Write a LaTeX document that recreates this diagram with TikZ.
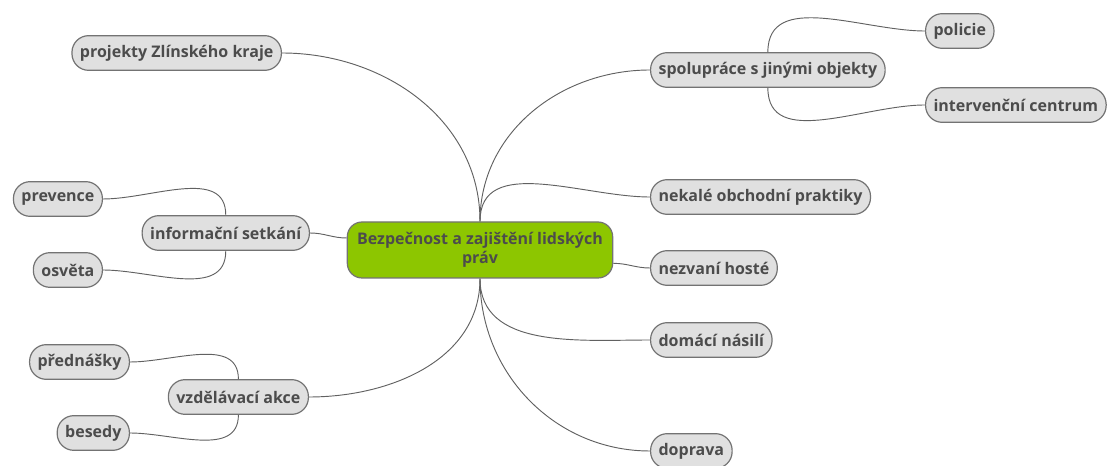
\documentclass[tikz,border=0pt]{standalone}
\usepackage{fontspec}
\setmainfont{Open Sans}

\definecolor{mapgreen}{RGB}{141,198,0}

\tikzset{
    topic/.style={draw=black!55, fill=black!12, line width=0.9pt, rounded corners=12.5pt,
        minimum height=26pt, inner xsep=6pt, font=\bfseries\fontsize{12}{14}\selectfont, text=black!70},
    central/.style={topic, fill=mapgreen, rounded corners=11pt, minimum width=199pt, minimum height=42pt, align=center},
    link/.style={draw=black!62, line width=0.7pt}
}

\begin{document}
\begin{tikzpicture}[x=0.75pt, y=-0.75pt]

    \useasboundingbox (0,0) rectangle (1108,466);

    % hlavni tema
    \node[central] (root) at (480,250) {Bezpečnost a zajištění lidských\\práv};

    % vpravo
    \node[topic, anchor=west] (coop) at (650,70) {spolupráce s jinými objekty};
    \node[topic, anchor=west] (police) at (925,31) {policie};
    \node[topic, anchor=west] (crisis) at (925,105) {intervenční centrum};
    \node[topic, anchor=west] (trade) at (650,197) {nekalé obchodní praktiky};
    \node[topic, anchor=west] (guests) at (650,268) {nezvaní hosté};
    \node[topic, anchor=west] (abuse) at (650,340) {domácí násilí};
    \node[topic, anchor=west] (traffic) at (650,451) {doprava};

    % vlevo
    \node[topic, anchor=east] (region) at (282,53) {projekty Zlínského kraje};
    \node[topic, anchor=east] (info) at (310,233) {informační setkání};
    \node[topic, anchor=east] (prevent) at (103,199) {prevence};
    \node[topic, anchor=east] (aware) at (103,270) {osvěta};
    \node[topic, anchor=east] (edu) at (309,397) {vzdělávací akce};
    \node[topic, anchor=east] (lecture) at (130,362) {přednášky};
    \node[topic, anchor=east] (debate) at (130,433) {besedy};

    % spojnice
    \foreach \child in {coop, trade} {
        \draw[link] (root.north) to[out=90, in=180] (\child.west);
    }
    \foreach \child in {abuse, traffic} {
        \draw[link] (root.south) to[out=-90, in=180] (\child.west);
    }
    \draw[link] ([yshift=-10pt]root.east) to[out=0, in=180] (guests.west);
    \draw[link] (root.north) to[out=90, in=0] (region.east);
    \draw[link] ([yshift=9pt]root.west) to[out=180, in=0] (info.east);
    \draw[link] (root.south) to[out=-90, in=0] (edu.east);

    \draw[link] (coop.north) to[out=90, in=180] (police.west);
    \draw[link] (coop.south) to[out=-90, in=180] (crisis.west);
    \draw[link] (info.north) to[out=90, in=0] (prevent.east);
    \draw[link] (info.south) to[out=-90, in=0] (aware.east);
    \draw[link] (edu.north) to[out=90, in=0] (lecture.east);
    \draw[link] (edu.south) to[out=-90, in=0] (debate.east);

\end{tikzpicture}
\end{document}
